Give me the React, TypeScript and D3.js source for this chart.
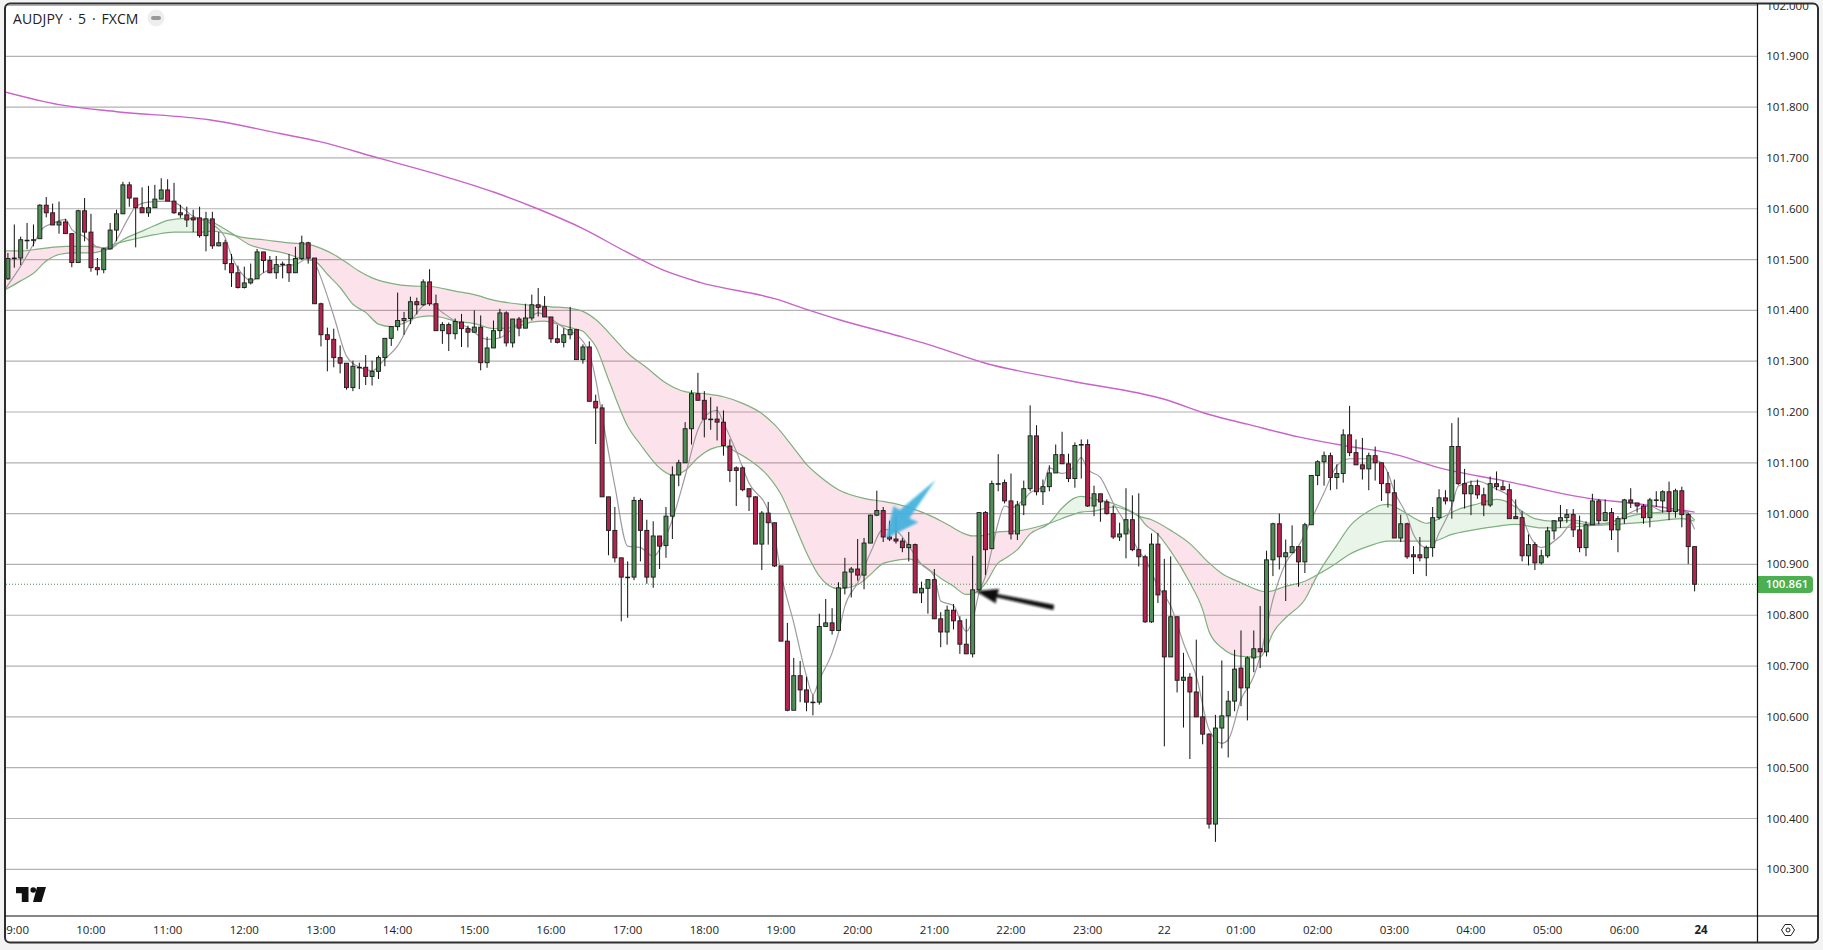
import React, { useEffect, useRef } from 'react';
import * as d3 from 'd3';

const priceLabels = ['100.300', '100.400', '100.500', '100.600', '100.700', '100.800', '100.900', '101.000', '101.100', '101.200', '101.300', '101.400', '101.500', '101.600', '101.700', '101.800', '101.900', '102.000'];
const timeLabels = ['09:00', '10:00', '11:00', '12:00', '13:00', '14:00', '15:00', '16:00', '17:00', '18:00', '19:00', '20:00', '21:00', '22:00', '23:00', '22', '01:00', '02:00', '03:00', '04:00', '05:00', '06:00', '24'];
const lastPrice = 100.861;
const firstBar = -1;

const opens = [
  101.462, 101.502, 101.503, 101.538, 101.539, 101.541, 101.607, 101.592, 101.568, 101.574,
  101.551, 101.494, 101.596, 101.554, 101.484, 101.480, 101.521, 101.558, 101.590, 101.647,
  101.621, 101.602, 101.592, 101.602, 101.619, 101.637, 101.615, 101.592, 101.588, 101.582,
  101.582, 101.547, 101.580, 101.527, 101.533, 101.492, 101.474, 101.445, 101.454, 101.462,
  101.515, 101.498, 101.474, 101.490, 101.490, 101.474, 101.502, 101.533, 101.503, 101.413,
  101.352, 101.343, 101.307, 101.296, 101.248, 101.288, 101.288, 101.270, 101.280, 101.307,
  101.345, 101.368, 101.380, 101.384, 101.417, 101.411, 101.456, 101.413, 101.360, 101.372,
  101.354, 101.377, 101.364, 101.357, 101.367, 101.297, 101.326, 101.360, 101.395, 101.336,
  101.383, 101.365, 101.385, 101.411, 101.407, 101.387, 101.344, 101.337, 101.352, 101.362,
  101.303, 101.328, 101.221, 101.208, 101.033, 100.967, 100.913, 100.875, 100.875, 101.026,
  100.967, 100.875, 100.956, 100.937, 100.995, 101.076, 101.100, 101.167, 101.236, 101.223,
  101.186, 101.186, 101.180, 101.133, 101.090, 101.090, 101.049, 101.033, 100.940, 101.001,
  100.982, 100.897, 100.749, 100.613, 100.681, 100.653, 100.629, 100.629, 100.778, 100.785,
  100.770, 100.854, 100.885, 100.891, 100.879, 100.942, 100.997, 101.006, 100.954, 100.950,
  100.946, 100.933, 100.939, 100.844, 100.853, 100.870, 100.793, 100.767, 100.810, 100.789,
  100.743, 100.724, 100.850, 101.002, 100.931, 101.059, 101.061, 101.025, 100.960, 101.017,
  101.049, 101.153, 101.043, 101.053, 101.080, 101.116, 101.098, 101.069, 101.136, 101.136,
  101.015, 101.039, 101.023, 101.000, 100.954, 100.960, 100.988, 100.929, 100.915, 100.787,
  100.940, 100.848, 100.718, 100.797, 100.672, 100.678, 100.649, 100.600, 100.566, 100.389,
  100.578, 100.602, 100.631, 100.696, 100.657, 100.716, 100.734, 100.728, 100.909, 100.980,
  100.915, 100.923, 100.935, 100.905, 100.978, 101.075, 101.102, 101.114, 101.071, 101.079,
  101.155, 101.120, 101.096, 101.088, 101.114, 101.100, 101.059, 101.041, 100.952, 100.980,
  100.919, 100.919, 100.913, 100.933, 100.992, 101.031, 101.025, 101.132, 101.059, 101.039,
  101.055, 101.037, 101.017, 101.059, 101.053, 101.047, 100.994, 100.992, 100.917, 100.939,
  100.903, 100.917, 100.966, 100.986, 100.992, 100.998, 100.968, 100.933, 100.978, 101.025,
  100.986, 101.002, 100.968, 100.990, 101.027, 101.021, 101.015, 100.992, 101.026, 101.025,
  101.043, 101.004, 101.045, 100.998, 100.935,
];

const highs = [
  101.513, 101.569, 101.545, 101.572, 101.569, 101.609, 101.623, 101.610, 101.614, 101.580,
  101.551, 101.598, 101.621, 101.590, 101.503, 101.523, 101.572, 101.598, 101.653, 101.653,
  101.621, 101.642, 101.645, 101.647, 101.660, 101.658, 101.651, 101.608, 101.604, 101.598,
  101.604, 101.594, 101.594, 101.554, 101.539, 101.511, 101.488, 101.486, 101.492, 101.521,
  101.515, 101.507, 101.507, 101.496, 101.511, 101.525, 101.547, 101.535, 101.503, 101.415,
  101.366, 101.364, 101.331, 101.296, 101.301, 101.297, 101.312, 101.301, 101.311, 101.345,
  101.369, 101.435, 101.397, 101.427, 101.425, 101.461, 101.481, 101.431, 101.377, 101.376,
  101.384, 101.393, 101.370, 101.400, 101.390, 101.348, 101.380, 101.403, 101.398, 101.383,
  101.387, 101.413, 101.431, 101.444, 101.428, 101.387, 101.371, 101.365, 101.407, 101.362,
  101.333, 101.339, 101.234, 101.215, 101.033, 101.013, 100.913, 100.906, 101.033, 101.030,
  100.988, 100.985, 100.956, 101.013, 101.093, 101.106, 101.180, 101.243, 101.277, 101.241,
  101.229, 101.211, 101.203, 101.146, 101.093, 101.093, 101.049, 101.034, 101.005, 101.023,
  100.982, 100.897, 100.785, 100.716, 100.710, 100.679, 100.644, 100.803, 100.832, 100.814,
  100.865, 100.913, 100.895, 100.950, 100.952, 100.998, 101.045, 101.013, 100.986, 100.996,
  100.952, 100.964, 100.941, 100.866, 100.871, 100.891, 100.806, 100.819, 100.822, 100.798,
  100.793, 100.917, 101.002, 101.005, 101.065, 101.117, 101.067, 101.079, 101.025, 101.065,
  101.213, 101.174, 101.067, 101.095, 101.136, 101.161, 101.118, 101.140, 101.146, 101.146,
  101.055, 101.039, 101.028, 101.016, 100.982, 101.050, 101.036, 101.040, 100.919, 100.961,
  100.962, 100.911, 100.916, 100.798, 100.726, 100.686, 100.752, 100.681, 100.568, 100.604,
  100.711, 100.651, 100.732, 100.770, 100.719, 100.770, 100.818, 100.927, 100.982, 101.000,
  100.949, 100.977, 100.936, 100.982, 101.075, 101.105, 101.122, 101.120, 101.097, 101.166,
  101.212, 101.146, 101.149, 101.120, 101.132, 101.100, 101.082, 101.067, 100.998, 100.982,
  100.936, 100.954, 100.937, 101.013, 101.048, 101.046, 101.178, 101.189, 101.088, 101.065,
  101.067, 101.051, 101.073, 101.083, 101.065, 101.059, 101.028, 101.005, 100.959, 100.944,
  100.929, 100.974, 100.986, 101.017, 101.009, 101.009, 100.996, 100.985, 101.039, 101.029,
  101.028, 101.011, 100.995, 101.029, 101.050, 101.021, 101.019, 101.031, 101.044, 101.046,
  101.063, 101.049, 101.053, 101.002, 100.935,
];

const lows = [
  101.460, 101.484, 101.489, 101.520, 101.526, 101.541, 101.583, 101.568, 101.551, 101.551,
  101.485, 101.494, 101.536, 101.476, 101.469, 101.473, 101.520, 101.536, 101.590, 101.604,
  101.524, 101.592, 101.584, 101.602, 101.619, 101.615, 101.590, 101.582, 101.564, 101.554,
  101.543, 101.516, 101.521, 101.526, 101.479, 101.446, 101.443, 101.443, 101.451, 101.462,
  101.474, 101.473, 101.462, 101.463, 101.456, 101.474, 101.499, 101.492, 101.413, 101.329,
  101.280, 101.288, 101.276, 101.244, 101.241, 101.245, 101.253, 101.252, 101.265, 101.290,
  101.330, 101.360, 101.352, 101.373, 101.392, 101.409, 101.409, 101.360, 101.334, 101.320,
  101.343, 101.328, 101.327, 101.357, 101.282, 101.287, 101.326, 101.346, 101.329, 101.327,
  101.349, 101.365, 101.380, 101.388, 101.387, 101.336, 101.335, 101.327, 101.343, 101.303,
  101.295, 101.221, 101.137, 101.033, 100.918, 100.904, 100.788, 100.795, 100.869, 100.906,
  100.862, 100.854, 100.891, 100.913, 100.950, 101.054, 101.100, 101.136, 101.223, 101.150,
  101.165, 101.144, 101.114, 101.062, 101.015, 101.044, 101.005, 100.940, 100.889, 100.939,
  100.895, 100.749, 100.611, 100.613, 100.629, 100.611, 100.603, 100.624, 100.778, 100.762,
  100.770, 100.841, 100.835, 100.868, 100.851, 100.942, 100.995, 100.944, 100.946, 100.941,
  100.924, 100.906, 100.844, 100.824, 100.803, 100.793, 100.737, 100.742, 100.772, 100.724,
  100.724, 100.717, 100.850, 100.879, 100.931, 101.044, 101.020, 100.949, 100.948, 100.997,
  101.044, 101.036, 101.017, 101.044, 101.080, 101.098, 101.062, 101.051, 101.069, 101.013,
  100.995, 100.984, 100.998, 100.950, 100.946, 100.912, 100.926, 100.896, 100.785, 100.785,
  100.824, 100.542, 100.718, 100.648, 100.579, 100.517, 100.600, 100.546, 100.380, 100.354,
  100.538, 100.520, 100.611, 100.621, 100.593, 100.688, 100.696, 100.719, 100.877, 100.890,
  100.828, 100.923, 100.856, 100.883, 100.978, 101.056, 101.055, 101.046, 101.048, 101.061,
  101.113, 101.096, 101.067, 101.046, 101.065, 101.025, 101.012, 100.952, 100.944, 100.911,
  100.881, 100.906, 100.877, 100.915, 100.988, 101.018, 100.990, 101.056, 101.010, 100.997,
  101.029, 100.995, 101.013, 101.046, 101.046, 100.990, 100.990, 100.906, 100.898, 100.889,
  100.900, 100.913, 100.949, 100.972, 100.982, 100.954, 100.924, 100.916, 100.978, 100.979,
  100.985, 100.948, 100.924, 100.980, 101.011, 101.002, 100.980, 100.973, 101.013, 101.002,
  100.987, 100.992, 100.973, 100.901, 100.847,
];

const closes = [
  101.502, 101.503, 101.539, 101.538, 101.539, 101.607, 101.592, 101.568, 101.574, 101.551,
  101.494, 101.596, 101.554, 101.484, 101.480, 101.521, 101.558, 101.590, 101.647, 101.621,
  101.602, 101.592, 101.602, 101.619, 101.637, 101.615, 101.592, 101.588, 101.578, 101.578,
  101.547, 101.580, 101.527, 101.533, 101.492, 101.474, 101.445, 101.454, 101.462, 101.515,
  101.498, 101.474, 101.490, 101.491, 101.474, 101.502, 101.533, 101.503, 101.413, 101.352,
  101.343, 101.307, 101.296, 101.248, 101.290, 101.288, 101.270, 101.280, 101.307, 101.345,
  101.368, 101.380, 101.384, 101.417, 101.411, 101.456, 101.413, 101.360, 101.372, 101.354,
  101.378, 101.364, 101.357, 101.367, 101.297, 101.326, 101.360, 101.395, 101.336, 101.383,
  101.365, 101.385, 101.411, 101.406, 101.387, 101.344, 101.337, 101.352, 101.362, 101.303,
  101.328, 101.221, 101.208, 101.033, 100.967, 100.913, 100.875, 100.875, 101.026, 100.967,
  100.875, 100.956, 100.936, 100.995, 101.076, 101.100, 101.167, 101.236, 101.223, 101.186,
  101.186, 101.180, 101.134, 101.085, 101.085, 101.047, 101.033, 100.940, 101.001, 100.982,
  100.897, 100.749, 100.613, 100.681, 100.653, 100.629, 100.629, 100.778, 100.785, 100.770,
  100.854, 100.885, 100.891, 100.879, 100.942, 100.997, 101.006, 100.954, 100.950, 100.946,
  100.933, 100.939, 100.844, 100.853, 100.870, 100.793, 100.767, 100.810, 100.789, 100.743,
  100.724, 100.850, 101.002, 100.929, 101.059, 101.059, 101.025, 100.960, 101.017, 101.049,
  101.153, 101.043, 101.053, 101.080, 101.116, 101.098, 101.069, 101.134, 101.136, 101.015,
  101.039, 101.023, 101.000, 100.954, 100.960, 100.988, 100.929, 100.915, 100.787, 100.940,
  100.840, 100.718, 100.797, 100.672, 100.678, 100.649, 100.600, 100.566, 100.389, 100.578,
  100.602, 100.631, 100.694, 100.657, 100.716, 100.734, 100.728, 100.909, 100.980, 100.915,
  100.923, 100.935, 100.905, 100.978, 101.075, 101.102, 101.114, 101.071, 101.079, 101.155,
  101.120, 101.096, 101.088, 101.114, 101.100, 101.059, 101.041, 100.952, 100.980, 100.915,
  100.915, 100.913, 100.933, 100.992, 101.031, 101.025, 101.132, 101.059, 101.039, 101.055,
  101.037, 101.017, 101.059, 101.053, 101.047, 100.990, 100.990, 100.917, 100.939, 100.903,
  100.917, 100.966, 100.986, 100.992, 100.998, 100.968, 100.933, 100.978, 101.025, 100.986,
  101.002, 100.968, 100.990, 101.027, 101.021, 101.015, 100.992, 101.027, 101.027, 101.043,
  101.004, 101.045, 100.998, 100.935, 100.861,
];

// indicator lines, [bar, price]
const fastMa: [number, number][] = [
  [-1.5, 101.441], [1, 101.487], [3, 101.530], [4.5, 101.562], [6, 101.571], [8, 101.579], [9, 101.559], [11, 101.545], [13, 101.525], [15, 101.521],
  [16, 101.539], [18, 101.585], [19, 101.604], [21, 101.613], [24, 101.615], [25, 101.613], [28, 101.585], [31, 101.569], [33, 101.543], [34, 101.507],
  [36, 101.467], [37, 101.458], [39, 101.474], [42, 101.488], [44, 101.490], [46, 101.503], [47, 101.494], [48, 101.464], [50, 101.389], [52, 101.310],
  [54, 101.288], [56, 101.281], [58, 101.304], [60, 101.330], [62, 101.376], [64, 101.409], [65, 101.414], [67, 101.396], [69, 101.379], [71, 101.366],
  [74, 101.343], [76, 101.346], [79, 101.375], [80.5, 101.385], [82, 101.395], [84, 101.383], [86, 101.366], [89, 101.339], [90, 101.316], [91, 101.264],
  [92, 101.192], [94, 101.054], [96, 100.936], [98, 100.933], [100, 100.916], [102, 100.956], [103, 100.988], [105, 101.074], [107, 101.165], [109, 101.200],
  [110, 101.203], [111, 101.179], [113, 101.123], [115, 101.060], [118, 101.005], [119, 100.955], [120, 100.883], [122, 100.785], [124, 100.680], [125, 100.644],
  [126, 100.673], [128, 100.726], [129, 100.765], [130, 100.818], [132, 100.864], [134, 100.923], [136, 100.969], [138, 100.966], [140, 100.936], [142, 100.900],
  [144, 100.877], [145, 100.828], [147, 100.819], [149, 100.768], [150, 100.791], [151, 100.844], [152, 100.877], [153, 100.929], [154, 100.982], [155, 101.015],
  [156, 101.011], [158, 101.028], [159, 101.041], [161, 101.053], [162, 101.090], [164, 101.079], [166, 101.094], [167, 101.110], [168, 101.087], [170, 101.071],
  [172, 101.021], [174, 100.979], [176, 100.926], [177, 100.910], [179, 100.857], [181, 100.818], [183, 100.745], [185, 100.680], [187, 100.575], [189, 100.548],
  [190, 100.555], [192, 100.634], [194, 100.680], [195, 100.719], [197, 100.831], [199, 100.903], [201, 100.936], [203, 100.988], [205, 101.041], [207, 101.094],
  [209, 101.108], [212, 101.108], [214, 101.100], [215, 101.080], [216, 101.044], [218, 100.995], [219, 100.959], [221, 100.933], [222, 100.935], [223, 100.962],
  [225, 101.015], [226, 101.054], [229, 101.064], [232, 101.048], [234, 101.034], [236, 100.995], [237, 100.962], [239, 100.933], [242, 100.956], [244, 100.982],
  [246, 100.979], [248, 100.979], [251, 100.988], [253, 101.002], [256, 101.015], [258, 101.005], [261, 101.008], [263, 100.969],
];

const ribbonFast: [number, number][] = [
  [-1.5, 101.440], [1, 101.458], [3, 101.473], [5, 101.497], [7, 101.510], [9, 101.513], [12, 101.513], [14, 101.518], [15, 101.521], [17, 101.539],
  [20, 101.556], [22, 101.567], [24, 101.577], [27, 101.581], [30, 101.579], [32, 101.567], [34, 101.552], [37, 101.528], [39, 101.521], [43, 101.510],
  [45, 101.501], [47, 101.497], [49, 101.471], [51, 101.445], [53, 101.412], [55, 101.396], [57, 101.373], [59, 101.368], [61, 101.375], [63, 101.386],
  [65, 101.389], [67, 101.386], [69, 101.379], [72, 101.374], [75, 101.364], [78, 101.366], [81, 101.377], [83, 101.379], [85, 101.373], [87, 101.366],
  [89, 101.359], [90, 101.346], [91, 101.329], [93, 101.264], [96, 101.172], [98, 101.136], [101, 101.090], [103, 101.076], [105, 101.085], [107, 101.110],
  [109, 101.127], [111, 101.133], [113, 101.121], [115, 101.106], [118, 101.074], [120, 101.038], [122, 100.982], [124, 100.923], [126, 100.877], [129, 100.852],
  [132, 100.860], [134, 100.880], [136, 100.902], [138, 100.908], [140, 100.911], [142, 100.900], [145, 100.873], [147, 100.857], [149, 100.841], [150, 100.842],
  [152, 100.862], [154, 100.903], [155, 100.911], [157, 100.929], [159, 100.960], [162, 100.981], [164, 101.011], [166, 101.031], [167, 101.034], [169, 101.029],
  [172, 101.020], [175, 101.003], [176, 100.995], [177, 100.979], [179, 100.959], [181, 100.926], [184, 100.864], [186, 100.811], [187, 100.768], [189, 100.736],
  [192, 100.719], [195, 100.718], [196, 100.736], [197, 100.765], [199, 100.795], [202, 100.831], [204, 100.880], [207, 100.938], [209, 100.975], [212, 101.005],
  [214, 101.017], [215, 101.018], [217, 101.007], [219, 100.992], [221, 100.981], [223, 100.990], [226, 101.008], [229, 101.019], [232, 101.028], [233, 101.026],
  [235, 101.013], [238, 100.990], [241, 100.985], [244, 100.987], [247, 100.981], [249, 100.981], [251, 100.988], [254, 100.998], [257, 101.002], [260, 101.006],
  [261, 101.007], [263, 100.987],
];

const ribbonSlow: [number, number][] = [
  [-1.5, 101.517], [1, 101.517], [4, 101.521], [8, 101.526], [12, 101.526], [14, 101.523], [16, 101.532], [19, 101.541], [22, 101.549], [25, 101.554],
  [29, 101.554], [31, 101.556], [33, 101.552], [36, 101.543], [39, 101.539], [43, 101.533], [46, 101.530], [48, 101.522], [50, 101.510], [52, 101.494],
  [54, 101.477], [56, 101.464], [59, 101.453], [62, 101.448], [65, 101.447], [69, 101.438], [72, 101.431], [75, 101.420], [80, 101.411], [84, 101.407],
  [87, 101.404], [89, 101.398], [91, 101.382], [94, 101.343], [96, 101.316], [99, 101.287], [102, 101.257], [105, 101.240], [108, 101.236], [111, 101.230],
  [114, 101.217], [117, 101.197], [119, 101.175], [122, 101.129], [124, 101.097], [126, 101.074], [129, 101.047], [133, 101.030], [136, 101.024], [138, 101.019],
  [143, 100.998], [146, 100.979], [149, 100.959], [150, 100.956], [151, 100.956], [154, 100.964], [157, 100.966], [162, 100.981], [165, 100.995], [167, 101.003],
  [169, 101.005], [172, 101.013], [175, 101.002], [176, 100.995], [178, 100.988], [181, 100.967], [184, 100.941], [187, 100.903], [189, 100.882], [192, 100.864],
  [196, 100.846], [199, 100.857], [202, 100.867], [204, 100.880], [207, 100.903], [209, 100.920], [212, 100.936], [215, 100.946], [218, 100.946], [222, 100.946],
  [225, 100.959], [228, 100.967], [232, 100.975], [235, 100.979], [239, 100.972], [243, 100.973], [247, 100.977], [251, 100.979], [256, 100.984], [261, 100.990],
  [263, 100.985],
];

const longMa: [number, number][] = [
  [-1.5, 101.830], [7, 101.805], [16, 101.791], [30.5, 101.775], [41.6, 101.748], [47.8, 101.732], [57.2, 101.699], [66.1, 101.668], [75, 101.633], [81.7, 101.601],
  [89, 101.561], [95.8, 101.515], [101.6, 101.479], [107.3, 101.455], [119, 101.423], [124, 101.402], [129, 101.382], [138.6, 101.349], [143, 101.333], [152, 101.296],
  [165, 101.262], [180, 101.225], [187, 101.195], [193, 101.176], [201, 101.151], [209, 101.132], [215, 101.120], [224, 101.087], [233, 101.065], [247, 101.029],
  [253, 101.021], [263, 101.003],
];

// hand drawn annotations, outlined in [bar, price]
const blueArrow: [number, number][] = [[144.2, 101.066], [140.1, 100.991], [141.5, 100.983], [136.4, 100.951], [137.6, 101.015], [138.6, 101.007]];
const blackArrow: [number, number][] = [[150.6, 100.847], [154.1, 100.851], [153.8, 100.8415], [162.7, 100.820], [162.6, 100.811], [153.7, 100.836], [153.6, 100.824]];

const WIDTH = 1823;
const HEIGHT = 950;
const LEFT = 6;
const RIGHT = 1757;
const TOP = 5;
const BOTTOM = 916;
const AXIS_FONT = '"Open Sans", sans-serif';

const App: React.FC = () => {
  const svgRef = useRef<SVGSVGElement | null>(null);

  useEffect(() => {
    const svgEl = svgRef.current;
    if (!svgEl) return;

    const svg = d3.select(svgEl);
    svg.selectAll('*').remove();

    const x = d3.scaleLinear().domain([0, 264]).range([14.3, 1701]);
    const y = d3.scaleLinear().domain([100.3, 101.9]).range([869.3, 56.3]);
    const bars = d3.range(opens.length);

    const defs = svg.append('defs');
    defs.append('clipPath').attr('id', 'plot').append('rect')
      .attr('x', LEFT).attr('y', TOP).attr('width', RIGHT - LEFT).attr('height', BOTTOM - TOP);
    defs.append('clipPath').attr('id', 'frame').append('rect')
      .attr('x', LEFT).attr('y', TOP - 1).attr('width', 1812).attr('height', 938);

    const blur = defs.append('filter').attr('id', 'soft').attr('x', '-20%').attr('y', '-20%').attr('width', '140%').attr('height', '140%');
    blur.append('feGaussianBlur').attr('stdDeviation', 0.9);

    const curve = d3.curveMonotoneX;
    const line = d3.line<[number, number]>().x((d) => x(d[0])).y((d) => y(d[1])).curve(curve);
    const above = d3.area<[number, number]>().x((d) => x(d[0])).y0(TOP).y1((d) => y(d[1])).curve(curve);
    const below = d3.area<[number, number]>().x((d) => x(d[0])).y0(BOTTOM).y1((d) => y(d[1])).curve(curve);

    defs.append('clipPath').attr('id', 'aboveFast').append('path').attr('d', above(ribbonFast));
    defs.append('clipPath').attr('id', 'aboveSlow').append('path').attr('d', above(ribbonSlow));

    // page and chart frame
    svg.append('rect').attr('width', WIDTH).attr('height', HEIGHT).attr('fill', '#f3f3f3');
    svg.append('rect')
      .attr('x', 5).attr('y', 3.5).attr('width', 1813).attr('height', 939).attr('rx', 5)
      .attr('fill', '#ffffff');

    const plot = svg.append('g').attr('clip-path', 'url(#plot)');

    plot.selectAll('line.grid').data(priceLabels).enter().append('line')
      .attr('class', 'grid')
      .attr('x1', LEFT).attr('x2', RIGHT)
      .attr('y1', (d) => y(+d)).attr('y2', (d) => y(+d))
      .attr('stroke', '#b2b2b2').attr('stroke-width', 1.2);

    // ribbon: pink while the fast line is under the slow one, green otherwise
    plot.append('g').attr('clip-path', 'url(#aboveFast)').append('path')
      .attr('d', below(ribbonSlow)).attr('fill', 'rgba(233,30,99,0.125)');
    plot.append('g').attr('clip-path', 'url(#aboveSlow)').append('path')
      .attr('d', below(ribbonFast)).attr('fill', 'rgba(76,175,80,0.125)');

    plot.append('path').attr('d', line(ribbonSlow)).attr('fill', 'none').attr('stroke', '#7fb07f').attr('stroke-width', 1.2);
    plot.append('path').attr('d', line(ribbonFast)).attr('fill', 'none').attr('stroke', '#7fb07f').attr('stroke-width', 1.2);
    plot.append('path').attr('d', line(fastMa)).attr('fill', 'none').attr('stroke', '#a09aa0').attr('stroke-width', 1.2);
    plot.append('path').attr('d', line(longMa)).attr('fill', 'none').attr('stroke', '#c962c9').attr('stroke-width', 1.4);

    plot.append('line')
      .attr('x1', LEFT).attr('x2', RIGHT)
      .attr('y1', y(lastPrice)).attr('y2', y(lastPrice))
      .attr('stroke', '#4f8f5f').attr('stroke-width', 1).attr('stroke-dasharray', '1 2');

    // candles
    const candles = plot.selectAll('g.candle').data(bars).enter().append('g').attr('class', 'candle');
    candles.append('line')
      .attr('x1', (i) => x(i + firstBar)).attr('x2', (i) => x(i + firstBar))
      .attr('y1', (i) => y(highs[i])).attr('y2', (i) => y(lows[i]))
      .attr('stroke', '#111111').attr('stroke-width', 1);
    candles.append('rect')
      .attr('x', (i) => x(i + firstBar) - 2)
      .attr('width', 4)
      .attr('y', (i) => y(Math.max(opens[i], closes[i])))
      .attr('height', (i) => Math.max(0.6, Math.abs(y(opens[i]) - y(closes[i]))))
      .attr('fill', (i) => (closes[i] >= opens[i] ? '#4f8f55' : '#b5234f'))
      .attr('stroke', '#1a1a1a').attr('stroke-width', 0.9);

    // annotations
    const outline = d3.line<[number, number]>().x((d) => x(d[0])).y((d) => y(d[1]));
    svg.append('path').attr('d', `${outline(blueArrow)}Z`).attr('fill', '#3fb1dd').attr('opacity', 0.92).attr('filter', 'url(#soft)');
    svg.append('path').attr('d', `${outline(blackArrow)}Z`).attr('fill', '#0c0c0c').attr('stroke', '#0c0c0c').attr('stroke-width', 0.6).attr('filter', 'url(#soft)');

    // price axis
    const frame = svg.append('g').attr('clip-path', 'url(#frame)');
    frame.selectAll('text.price').data(priceLabels).enter().append('text')
      .attr('class', 'price')
      .attr('x', 1787.5).attr('y', (d) => y(+d))
      .attr('dy', '0.35em').attr('text-anchor', 'middle')
      .attr('font-family', AXIS_FONT).attr('font-size', 11.5).attr('fill', '#222222')
      .text((d) => d);

    svg.append('path')
      .attr('d', 'M1757.5 576H1809a4 4 0 0 1 4 4v9a4 4 0 0 1 -4 4H1757.5Z')
      .attr('fill', '#4caf50');
    svg.append('text')
      .attr('x', 1787).attr('y', y(lastPrice))
      .attr('dy', '0.35em').attr('text-anchor', 'middle')
      .attr('font-family', AXIS_FONT).attr('font-size', 11.5).attr('font-weight', 600).attr('fill', '#ffffff')
      .text(lastPrice.toFixed(3));

    // time axis
    frame.selectAll('text.time').data(timeLabels).enter().append('text')
      .attr('class', 'time')
      .attr('x', (_, i) => x(i * 12)).attr('y', 930)
      .attr('dy', '0.35em').attr('text-anchor', 'middle')
      .attr('font-family', AXIS_FONT).attr('font-size', 11.5)
      .attr('font-weight', (d) => (d === '24' ? 700 : 400))
      .attr('fill', '#222222')
      .text((d) => d);

    // frame lines
    svg.append('rect')
      .attr('x', 5).attr('y', 3.5).attr('width', 1813).attr('height', 939).attr('rx', 5)
      .attr('fill', 'none').attr('stroke', '#2e2e2e').attr('stroke-width', 2);
    svg.append('line').attr('x1', RIGHT + 0.5).attr('x2', RIGHT + 0.5).attr('y1', 3.5).attr('y2', 942).attr('stroke', '#111111').attr('stroke-width', 1.2);
    svg.append('line').attr('x1', 5).attr('x2', 1818).attr('y1', BOTTOM).attr('y2', BOTTOM).attr('stroke', '#111111').attr('stroke-width', 1.2);

    // title and legend toggle
    svg.append('text')
      .attr('x', 13).attr('y', 23.5)
      .attr('font-family', '"Open Sans", sans-serif').attr('font-size', 14).attr('word-spacing', 2).attr('letter-spacing', 0.1).attr('fill', '#222222')
      .text('AUDJPY · 5 · FXCM');
    svg.append('circle').attr('cx', 156).attr('cy', 18).attr('r', 8.5).attr('fill', '#eeeeee');
    svg.append('rect').attr('x', 151).attr('y', 16).attr('width', 10).attr('height', 4).attr('rx', 2).attr('fill', '#999999');

    // watermark
    const logo = svg.append('g').attr('fill', '#111111');
    logo.append('path').attr('d', 'M16 887H28.5V902H21.8V893.3H16Z');
    logo.append('circle').attr('cx', 33.2).attr('cy', 890).attr('r', 2.8);
    logo.append('path').attr('d', 'M37 887H46L41.5 902H33Z');

    // settings glyph
    const gear = svg.append('g').attr('fill', 'none').attr('stroke', '#222222').attr('stroke-width', 1);
    gear.append('path').attr('d', 'M1781.5 930L1785 924.5H1791L1794.5 930L1791 935.5H1785Z');
    gear.append('circle').attr('cx', 1788).attr('cy', 930).attr('r', 2);
  }, []);

  return (
    <svg
      ref={svgRef}
      width={WIDTH}
      height={HEIGHT}
      style={{ position: 'absolute', left: 0, top: 0, display: 'block' }}
    ></svg>
  );
};

export default App;
